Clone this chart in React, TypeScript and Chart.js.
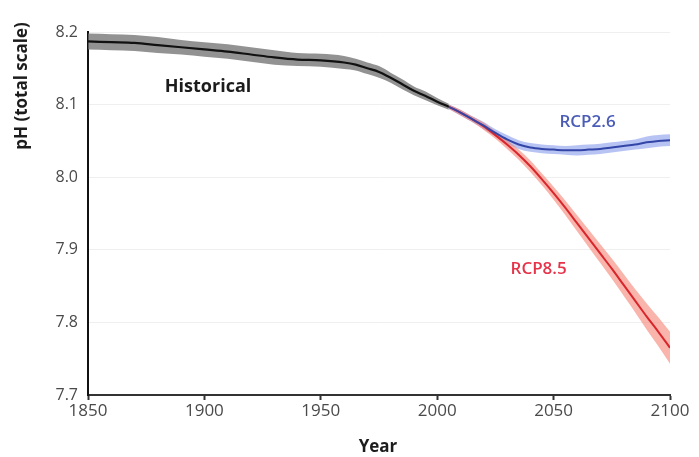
import React, { useEffect, useRef } from 'react';
import { Chart, registerables } from 'chart.js';

Chart.register(...registerables);

// ---- Data ----
const histYears = [1850, 1860, 1870, 1880, 1890, 1900, 1910, 1920, 1930, 1940, 1950, 1960, 1965, 1970, 1975, 1980, 1985, 1990, 1995, 2000, 2005];
const histPH = [8.187, 8.186, 8.185, 8.182, 8.179, 8.176, 8.173, 8.169, 8.165, 8.162, 8.161, 8.158, 8.155, 8.150, 8.145, 8.137, 8.128, 8.119, 8.112, 8.104, 8.097];
const histUnc = [0.011, 0.011, 0.011, 0.011, 0.010, 0.010, 0.010, 0.010, 0.010, 0.009, 0.009, 0.009, 0.008, 0.008, 0.008, 0.007, 0.007, 0.006, 0.006, 0.005, 0.004];

const projYears = [2005, 2010, 2015, 2020, 2025, 2030, 2035, 2040, 2045, 2050, 2055, 2060, 2065, 2070, 2075, 2080, 2085, 2090, 2095, 2100];
const rcp26PH = [8.097, 8.089, 8.080, 8.071, 8.061, 8.052, 8.045, 8.041, 8.039, 8.038, 8.037, 8.037, 8.038, 8.039, 8.041, 8.043, 8.045, 8.048, 8.050, 8.051];
const rcp26Unc = [0.003, 0.004, 0.004, 0.005, 0.005, 0.006, 0.006, 0.006, 0.006, 0.006, 0.006, 0.007, 0.007, 0.007, 0.007, 0.007, 0.007, 0.008, 0.008, 0.008];
const rcp85PH = [8.097, 8.089, 8.080, 8.070, 8.058, 8.045, 8.031, 8.015, 7.997, 7.978, 7.958, 7.937, 7.916, 7.895, 7.874, 7.852, 7.830, 7.808, 7.787, 7.765];
const rcp85Unc = [0.003, 0.004, 0.004, 0.005, 0.005, 0.006, 0.007, 0.008, 0.008, 0.009, 0.010, 0.011, 0.012, 0.013, 0.014, 0.015, 0.016, 0.018, 0.020, 0.022];

const xMin = 1850;
const xMax = 2100;
const xStep = 50;
const yMin = 7.7;
const yMax = 8.2;
const yStep = 0.1;

// annotation labels: [text, year, pH, colour, font]
const seriesLabels: [string, number, number, string, string][] = [
  ['Historical', 1883, 8.124, '#1c1c1c', 'bold 18px "Open Sans"'],
  ['RCP2.6', 2052.5, 8.076, '#4a5cb8', '600 17px "Open Sans"'],
  ['RCP8.5', 2031.5, 7.873, '#e5344a', '600 17px "Open Sans"'],
];

const pts = (xs: number[], ys: number[]) => xs.map((x, i) => ({ x, y: ys[i] }));
const band = (xs: number[], ys: number[], u: number[], s: number) => xs.map((x, i) => ({ x, y: ys[i] + s * u[i] }));

const textPlugin = {
  id: 'textPlugin',
  afterDraw(chart: any) {
    const { ctx, scales } = chart;
    const xs = scales.x;
    const ys = scales.y;
    ctx.save();
    ctx.textBaseline = 'middle';
    ctx.textAlign = 'left';
    for (const [t, yr, v, col, font] of seriesLabels) {
      ctx.font = font;
      ctx.fillStyle = col;
      ctx.fillText(t, xs.getPixelForValue(yr), ys.getPixelForValue(v));
    }
    ctx.fillStyle = '#1c1c1c';
    ctx.font = 'bold 17px "Open Sans"';
    ctx.textAlign = 'center';
    ctx.fillText('Year', (xs.left + xs.right) / 2 - 1, 447);
    ctx.translate(22, 86);
    ctx.rotate(-Math.PI / 2);
    ctx.fillText('pH (total scale)', 0, 0);
    ctx.restore();
  },
};

export default function App() {
  const ref = useRef<HTMLCanvasElement | null>(null);
  useEffect(() => {
    if (!ref.current) return;
    const lineCommon = { pointRadius: 0, cubicInterpolationMode: 'monotone' as const, fill: false };
    const chart = new Chart(ref.current, {
      type: 'line',
      data: {
        datasets: [
          { ...lineCommon, data: pts(histYears, histPH), borderColor: '#111111', borderWidth: 2.2, order: 1 },
          { ...lineCommon, data: pts(projYears, rcp26PH), borderColor: '#3346a8', borderWidth: 2, order: 2 },
          { ...lineCommon, data: pts(projYears, rcp85PH), borderColor: '#d8262c', borderWidth: 2, order: 3 },
          { ...lineCommon, data: band(histYears, histPH, histUnc, 1), borderWidth: 0, borderColor: 'rgba(0,0,0,0)', order: 10 },
          { ...lineCommon, data: band(histYears, histPH, histUnc, -1), borderWidth: 0, borderColor: 'rgba(0,0,0,0)', fill: '-1', backgroundColor: 'rgba(110,110,110,0.75)', order: 10 },
          { ...lineCommon, data: band(projYears, rcp85PH, rcp85Unc, 1), borderWidth: 0, borderColor: 'rgba(0,0,0,0)', order: 10 },
          { ...lineCommon, data: band(projYears, rcp85PH, rcp85Unc, -1), borderWidth: 0, borderColor: 'rgba(0,0,0,0)', fill: '-1', backgroundColor: 'rgba(245,130,115,0.6)', order: 10 },
          { ...lineCommon, data: band(projYears, rcp26PH, rcp26Unc, 1), borderWidth: 0, borderColor: 'rgba(0,0,0,0)', order: 10 },
          { ...lineCommon, data: band(projYears, rcp26PH, rcp26Unc, -1), borderWidth: 0, borderColor: 'rgba(0,0,0,0)', fill: '-1', backgroundColor: 'rgba(135,155,235,0.6)', order: 10 },
        ],
      },
      options: {
        responsive: false,
        animation: false,
        events: [],
        layout: { padding: { left: 0, top: 32, right: 29, bottom: 0 } },
        plugins: {
          legend: { display: false },
          tooltip: { enabled: false },
          filler: { drawTime: 'beforeDatasetsDraw' },
        },
        scales: {
          x: {
            type: 'linear',
            min: xMin,
            max: xMax,
            afterFit: (s: any) => { s.height = 62; },
            ticks: { stepSize: xStep, color: '#4a4a4a', font: { family: 'Open Sans', size: 17 }, padding: 1, maxRotation: 0, callback: (v: any) => String(v) },
            grid: { drawOnChartArea: false, color: '#333', tickLength: 5, tickWidth: 2 },
            border: { color: '#333333', width: 2 },
          },
          y: {
            type: 'linear',
            min: yMin,
            max: yMax,
            afterFit: (s: any) => { s.width = 88; },
            ticks: { stepSize: yStep, color: '#4a4a4a', font: { family: 'Open Sans', size: 16 }, padding: 10, callback: (v: any) => Number(v).toFixed(1) },
            grid: { color: '#efefef', lineWidth: 1, drawTicks: false },
            border: { color: '#111111', width: 2 },
          },
        },
      },
      plugins: [textPlugin],
    } as any);
    return () => chart.destroy();
  }, []);
  return (
    <div style={{ position: 'absolute', left: 0, top: 0, width: 699, height: 457, background: '#fff' }}>
      <canvas ref={ref} width={699} height={457} />
    </div>
  );
}
